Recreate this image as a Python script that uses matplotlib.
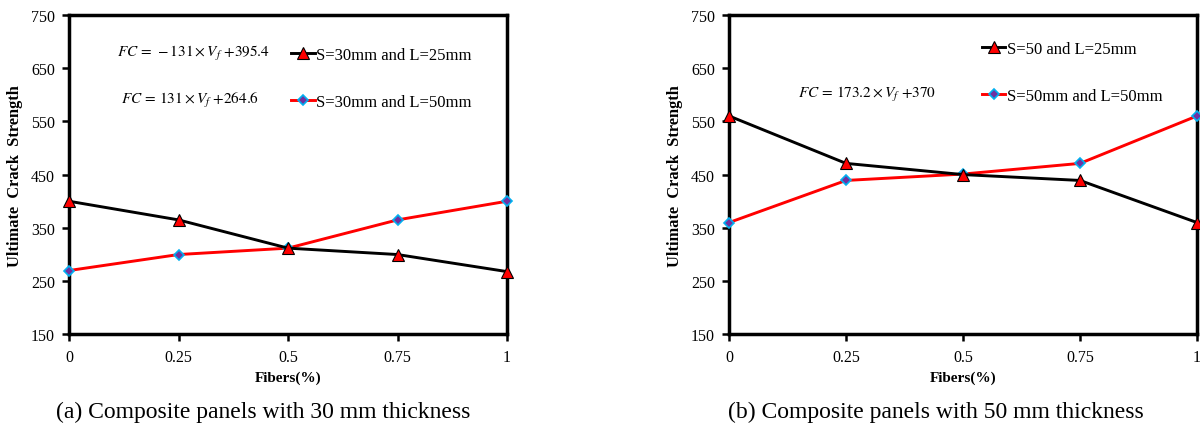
import matplotlib
matplotlib.use("Agg")
import matplotlib.pyplot as plt
from matplotlib.lines import Line2D

plt.rcParams['font.family'] = ['Liberation Serif', 'DejaVu Serif']
plt.rcParams['mathtext.fontset'] = 'stix'

fibers = [0, 0.25, 0.5, 0.75, 1]
xtick_labels = ['0', '0.25', '0.5', '0.75', '1']
yticks = [150, 250, 350, 450, 550, 650, 750]

a_s30_l25 = [400, 365, 312, 300, 268]
a_s30_l50 = [270, 300, 312, 365, 400]
b_s50_l25 = [560, 471, 450, 439, 360]
b_s50_l50 = [360, 439, 451, 471, 560]

labels_a = ['S=30mm and L=25mm', 'S=30mm and L=50mm']
labels_b = ['S=50 and L=25mm', 'S=50mm and L=50mm']
captions = ['(a) Composite panels with 30 mm thickness',
            '(b) Composite panels with 50 mm thickness']

fig = plt.figure(figsize=(12, 4.27), dpi=100)
ax1 = fig.add_axes([0.0575, 0.2143, 0.365, 0.749])
ax2 = fig.add_axes([0.6075, 0.2143, 0.39, 0.749])

black_kw = dict(color='black', lw=2.1, marker='^', markersize=8,
                markerfacecolor='#FF0000', markeredgecolor='black', markeredgewidth=0.8)
red_kw = dict(color='#FF0000', lw=2.1, marker='D', markersize=5.5,
              markerfacecolor='#7030A0', markeredgecolor='#00B0F0', markeredgewidth=1.2)

for ax, s1, s2 in [(ax1, a_s30_l25, a_s30_l50), (ax2, b_s50_l25, b_s50_l50)]:
    ax.plot(fibers, s2, zorder=3, clip_on=False, **red_kw)
    ax.plot(fibers, s1, zorder=4, clip_on=False, **black_kw)
    ax.set_xlim(0, 1)
    ax.set_ylim(150, 750)
    ax.set_xticks(fibers)
    ax.set_xticklabels(xtick_labels)
    ax.set_yticks(yticks)
    ax.tick_params(direction='out', length=5, width=1.8, labelsize=11.5)
    ax.tick_params(axis='x', pad=5.5)
    ax.tick_params(axis='y', pad=5)
    for sp in ax.spines.values():
        sp.set_linewidth(2.5)
    ax.set_xlabel('Fibers(%)', fontweight='bold', fontsize=11, labelpad=4)
    ax.set_ylabel('Ultimate  Crack  Strength', fontweight='bold', fontsize=11.8, labelpad=6)

# legends
h1 = Line2D([], [], **black_kw)
h2 = Line2D([], [], **red_kw)
leg_kw = dict(frameon=False, fontsize=12, handlelength=1.4, handletextpad=0.1,
              labelspacing=1.87, borderpad=0.2)
ax1.legend([h1, h2], labels_a, loc='upper left', bbox_to_anchor=(0.481, 0.936), **leg_kw)
ax2.legend([h1, h2], labels_b, loc='upper left', bbox_to_anchor=(0.516, 0.955), **leg_kw)

# equations
ax1.text(0.11, 0.882, r'$FC\,=\,-131\times V_f\ \mathit{+395.4}$', transform=ax1.transAxes,
         fontsize=11, va='center', ha='left')
ax1.text(0.118, 0.735, r'$FC\,=\,131\times V_f\ \mathit{+264.6}$', transform=ax1.transAxes,
         fontsize=11, va='center', ha='left')
ax2.text(0.147, 0.752, r'$FC\,=\,173.2\times V_f\ \mathit{+370}$', transform=ax2.transAxes,
         fontsize=11, va='center', ha='left')

fig.text(0.219, 0.035, captions[0], fontsize=17, ha='center', va='center')
fig.text(0.78, 0.035, captions[1], fontsize=17, ha='center', va='center')

fig.savefig('out.png', dpi=100)
